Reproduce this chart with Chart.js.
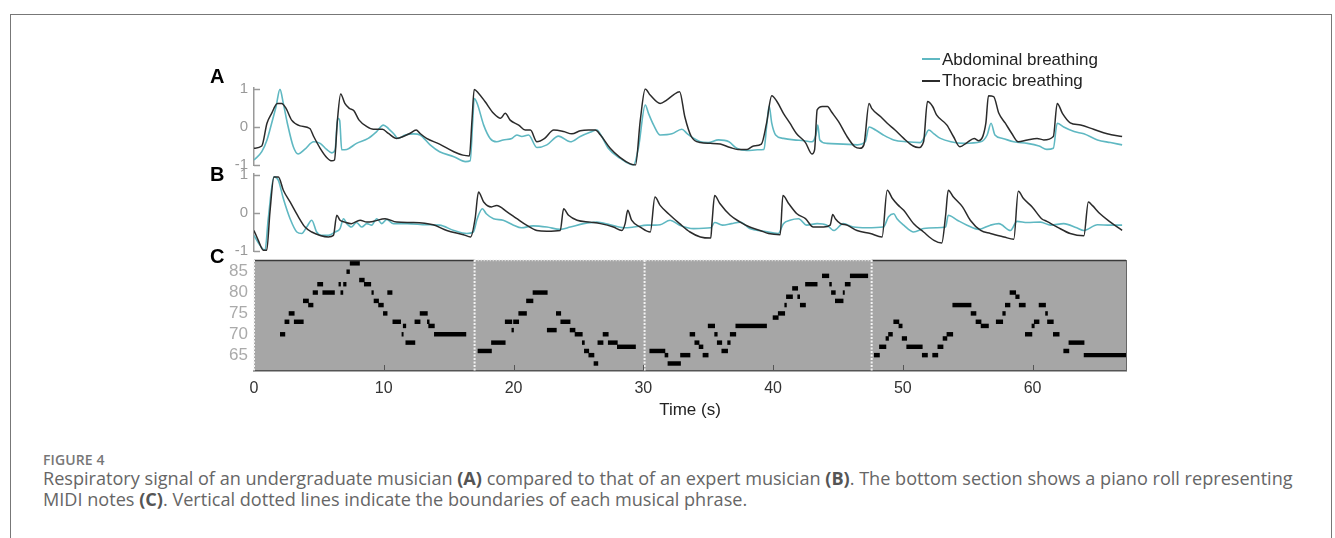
<!DOCTYPE html>
<html>
<head>
<meta charset="utf-8">
<script src="https://cdn.jsdelivr.net/npm/chart.js@4.4.1/dist/chart.umd.min.js"></script>
<style>
html,body{margin:0;padding:0;background:#fff;width:1335px;height:538px;overflow:hidden;}
#card{position:absolute;left:10px;top:14px;width:1322px;height:600px;border:1.5px solid #777;box-sizing:border-box;}
canvas{position:absolute;left:200px;}
.plabel{position:absolute;left:210px;font:bold 20px/20px "Liberation Sans",Arial,sans-serif;color:#000;}
.leg{position:absolute;left:942px;font:17px/20px "Liberation Sans",Arial,sans-serif;color:#222;white-space:nowrap;}
.legline{position:absolute;left:922px;width:18px;height:1.6px;}
#figlab{position:absolute;left:43px;top:451.6px;font:600 14px/16px "Open Sans",sans-serif;color:#777;letter-spacing:0.1px;}
#cap{position:absolute;left:43px;top:467.5px;font:18.1px/21px "Open Sans",sans-serif;color:#666;white-space:nowrap;}
#cap b{color:#555;font-weight:700;}
</style>
</head>
<body>
<div id="card"></div>
<canvas id="cA" width="940" height="118" style="top:68px;width:940px;height:118px"></canvas>
<canvas id="cB" width="940" height="118" style="top:154px;width:940px;height:118px"></canvas>
<canvas id="cC" width="940" height="192" style="top:240px;width:940px;height:192px"></canvas>
<div class="plabel" style="top:66px">A</div>
<div class="plabel" style="top:164px">B</div>
<div class="plabel" style="top:246px">C</div>
<div class="legline" style="top:58px;background:#5fb8c2"></div>
<div class="leg" style="top:50px">Abdominal breathing</div>
<div class="legline" style="top:80px;background:#2b2b2b"></div>
<div class="leg" style="top:71px">Thoracic breathing</div>
<div id="figlab">FIGURE 4</div>
<div id="cap">Respiratory signal of an undergraduate musician <b>(A)</b> compared to that of an expert musician <b>(B)</b>. The bottom section shows a piano roll representing<br>MIDI notes <b>(C)</b>. Vertical dotted lines indicate the boundaries of each musical phrase.</div>
<script>
// ---------- DATA ----------
const seriesNames = ["Abdominal breathing", "Thoracic breathing"];
const timeTicks = [0, 10, 20, 30, 40, 50, 60];
const signalTicks = [-1, 0, 1];
const pitchTicks = [65, 70, 75, 80, 85];
const phraseBounds = [17.0, 30.1, 47.6];

// Panel A (undergraduate) [time s, normalized signal]
const aAbdominal = [[0,-0.87],[0.6,-0.65],[1.0,-0.34],[1.36,0.1],[1.7,0.54],[2.0,0.99],[2.26,0.62],[2.57,0.1],[3.03,-0.52],[3.4,-0.71],[3.9,-0.59],[4.6,-0.39],[5.1,-0.43],[5.6,-0.59],[6.0,-0.68],[6.25,-0.6],[6.45,0.23],[6.6,0.18],[6.76,-0.6],[7.15,-0.59],[7.9,-0.43],[8.8,-0.3],[9.45,-0.12],[9.97,0.05],[10.36,-0.04],[10.75,-0.17],[11.1,-0.3],[11.65,-0.21],[12.3,-0.18],[12.8,-0.21],[13.57,-0.47],[14.3,-0.65],[15.4,-0.78],[16.3,-0.91],[16.66,-0.89],[16.86,0.18],[16.97,0.75],[17.2,0.62],[17.7,0.05],[18.2,-0.3],[18.7,-0.39],[19.2,-0.34],[19.87,-0.3],[20.26,-0.21],[20.64,-0.25],[21.16,-0.21],[21.8,-0.54],[22.57,-0.47],[23.47,-0.24],[24.37,-0.39],[25.14,-0.25],[25.9,-0.14],[26.43,-0.08],[26.8,-0.25],[27.3,-0.56],[28.2,-0.82],[29.25,-1.0],[29.64,-0.52],[30.15,0.58],[30.4,0.36],[30.8,0.05],[31.3,-0.21],[32.2,-0.18],[32.97,-0.06],[33.4,-0.18],[33.9,-0.3],[34.4,-0.39],[35.0,-0.41],[35.8,-0.34],[36.6,-0.39],[37.2,-0.56],[38.0,-0.62],[38.8,-0.6],[39.3,-0.59],[39.5,0.0],[39.7,0.55],[39.9,0.1],[40.2,-0.21],[40.8,-0.3],[41.6,-0.34],[42.4,-0.36],[43.0,-0.39],[43.3,-0.21],[43.45,0.05],[43.6,-0.34],[44.15,-0.43],[45.4,-0.45],[46.5,-0.47],[47.1,-0.39],[47.4,0.0],[47.9,-0.08],[48.5,-0.21],[49.3,-0.34],[50.3,-0.39],[51.35,-0.41],[51.7,-0.25],[52.0,-0.08],[52.4,-0.18],[52.9,-0.3],[53.7,-0.39],[54.7,-0.43],[56.0,-0.39],[56.5,-0.21],[56.8,0.1],[57.1,-0.21],[57.7,-0.3],[58.55,-0.39],[59.6,-0.43],[60.5,-0.5],[61.1,-0.59],[61.6,-0.56],[61.9,0.1],[62.4,0.0],[63.2,-0.12],[63.95,-0.18],[65.0,-0.34],[66.0,-0.41],[66.9,-0.47]];
const aThoracic = [[0,-0.56],[0.6,-0.5],[1.0,0.1],[1.36,0.36],[1.8,0.62],[2.13,0.62],[2.47,0.49],[2.9,0.18],[3.55,0.03],[4.3,-0.04],[4.6,-0.25],[5.1,-0.56],[5.6,-0.8],[6.0,-0.89],[6.2,-0.87],[6.43,0.18],[6.68,0.87],[7.0,0.62],[7.35,0.49],[7.7,0.43],[8.1,0.18],[8.7,0.01],[9.2,-0.06],[9.9,-0.06],[10.36,-0.17],[11.0,-0.3],[11.5,-0.25],[12.0,-0.17],[12.5,-0.08],[12.8,-0.17],[13.3,-0.3],[14.3,-0.45],[15.4,-0.65],[16.1,-0.74],[16.6,-0.76],[16.8,0.18],[16.97,0.99],[17.3,0.89],[17.8,0.67],[18.46,0.36],[19.0,0.23],[19.36,0.36],[19.74,0.18],[20.4,0.05],[20.9,-0.08],[21.3,-0.08],[21.8,-0.39],[22.4,-0.3],[23.1,-0.08],[23.86,-0.12],[24.5,-0.18],[25.14,-0.1],[25.8,-0.08],[26.3,-0.08],[26.7,-0.21],[27.45,-0.56],[28.2,-0.8],[29.0,-0.97],[29.4,-1.0],[29.77,0.18],[30.15,1.0],[30.53,0.84],[31.3,0.62],[31.8,0.71],[32.3,0.84],[32.8,0.93],[33.2,0.27],[33.7,-0.25],[34.4,-0.41],[35.16,-0.43],[35.93,-0.45],[36.7,-0.54],[37.3,-0.59],[38.0,-0.59],[38.5,-0.5],[39.1,-0.45],[39.5,0.1],[39.9,0.82],[40.3,0.67],[40.8,0.36],[41.3,0.1],[41.8,-0.17],[42.5,-0.41],[43.0,-0.71],[43.2,-0.6],[43.4,0.45],[43.8,0.54],[44.2,0.54],[44.5,0.4],[45.05,0.14],[45.7,-0.25],[46.3,-0.52],[46.7,-0.56],[47.0,-0.47],[47.4,0.62],[47.6,0.49],[48.3,0.27],[48.8,0.1],[49.4,-0.08],[50.07,-0.3],[50.8,-0.5],[51.2,-0.54],[51.6,-0.39],[51.9,0.67],[52.3,0.54],[52.6,0.32],[53.4,0.05],[53.9,-0.25],[54.4,-0.52],[54.95,-0.41],[55.5,-0.3],[55.85,-0.36],[56.4,0.1],[56.6,0.82],[57.0,0.8],[57.4,0.36],[57.9,0.1],[58.4,-0.17],[58.9,-0.39],[59.6,-0.34],[60.35,-0.3],[60.86,-0.34],[61.6,-0.25],[61.9,0.62],[62.3,0.36],[62.9,0.11],[63.7,0.05],[64.7,-0.06],[65.75,-0.18],[66.9,-0.25]];

// Panel B (expert)
const bAbdominal = [[0,-0.59],[0.46,-0.85],[0.85,-0.98],[1.1,-0.15],[1.54,0.95],[1.88,0.86],[2.26,0.38],[2.78,-0.15],[3.3,-0.5],[3.68,-0.54],[4.06,-0.37],[4.45,-0.19],[4.83,-0.5],[5.2,-0.59],[5.73,-0.59],[6.25,-0.5],[6.63,-0.41],[6.9,-0.15],[7.15,-0.28],[7.5,-0.37],[7.9,-0.25],[8.3,-0.37],[8.7,-0.28],[9.07,-0.32],[9.46,-0.15],[9.85,-0.28],[10.23,-0.17],[10.75,-0.28],[11.8,-0.28],[13.3,-0.31],[14.3,-0.32],[15.4,-0.46],[16.4,-0.54],[16.9,-0.5],[17.2,-0.15],[17.6,0.11],[17.9,-0.02],[18.46,-0.15],[19.2,-0.19],[20.0,-0.32],[20.6,-0.39],[21.5,-0.34],[22.57,-0.37],[23.6,-0.43],[24.37,-0.37],[25.4,-0.28],[26.4,-0.24],[27.45,-0.31],[28.5,-0.39],[29.25,-0.37],[30.3,-0.32],[30.9,-0.32],[31.3,-0.31],[32.07,-0.19],[32.8,-0.32],[33.87,-0.41],[35.2,-0.39],[35.5,-0.25],[36.1,-0.32],[36.8,-0.28],[37.47,-0.24],[38.2,-0.41],[39.3,-0.48],[40.4,-0.54],[40.8,-0.28],[41.3,-0.19],[41.97,-0.15],[42.6,-0.32],[43.4,-0.28],[44.15,-0.32],[44.7,-0.46],[45.4,-0.28],[46.2,-0.37],[47.2,-0.39],[48.5,-0.37],[48.9,-0.1],[49.3,-0.02],[49.55,-0.15],[50.07,-0.32],[50.84,-0.5],[51.6,-0.41],[52.6,-0.39],[53.3,-0.37],[53.5,-0.06],[54.2,-0.19],[54.95,-0.32],[55.85,-0.43],[56.75,-0.32],[57.4,-0.28],[58.3,-0.46],[58.8,-0.22],[59.6,-0.25],[60.6,-0.24],[61.4,-0.32],[62.4,-0.28],[63.4,-0.39],[63.95,-0.46],[65.0,-0.31],[66.0,-0.32],[66.9,-0.32]];
const bThoracic = [[0,-0.46],[0.33,-0.72],[0.72,-0.98],[0.98,-0.98],[1.23,0.03],[1.54,0.95],[1.88,0.95],[2.26,0.6],[2.78,0.29],[3.42,-0.1],[3.93,-0.37],[4.45,-0.5],[5.1,-0.59],[5.73,-0.63],[6.12,-0.59],[6.38,-0.06],[6.63,-0.19],[7.0,-0.24],[7.5,-0.28],[8.17,-0.19],[8.7,-0.24],[9.2,-0.22],[10.1,-0.15],[11.0,-0.24],[12.3,-0.25],[13.8,-0.31],[14.86,-0.46],[16.14,-0.57],[16.7,-0.63],[17.04,-0.15],[17.3,0.55],[17.7,0.29],[18.3,0.16],[18.7,0.2],[19.5,0.03],[20.26,-0.15],[21.0,-0.32],[21.8,-0.46],[22.57,-0.48],[23.6,-0.46],[23.86,0.11],[24.24,-0.06],[24.9,-0.19],[25.9,-0.24],[26.7,-0.28],[27.7,-0.37],[28.35,-0.46],[28.6,-0.28],[28.8,0.07],[29.1,-0.19],[29.77,-0.37],[30.54,-0.5],[30.9,0.42],[31.3,0.2],[32.07,-0.06],[32.8,-0.28],[33.6,-0.5],[34.4,-0.63],[35.2,-0.66],[35.3,-0.24],[35.5,0.46],[35.9,0.25],[36.7,-0.06],[37.47,-0.24],[38.2,-0.37],[39.0,-0.46],[39.65,-0.54],[40.55,-0.57],[40.76,0.46],[41.2,0.25],[41.84,-0.02],[42.5,-0.15],[43.1,-0.37],[43.9,-0.37],[44.4,-0.32],[44.6,-0.04],[44.8,-0.15],[45.2,-0.28],[45.7,-0.32],[46.47,-0.46],[47.5,-0.54],[48.4,-0.63],[48.8,0.6],[49.2,0.38],[49.6,0.22],[50.07,0.07],[50.84,-0.28],[51.6,-0.5],[52.4,-0.72],[53.0,-0.79],[53.3,-0.06],[53.5,0.6],[53.9,0.42],[54.6,0.16],[55.2,-0.19],[56.0,-0.46],[56.75,-0.54],[57.8,-0.63],[58.55,-0.69],[58.9,0.57],[59.3,0.38],[59.97,0.16],[60.7,-0.15],[61.1,-0.22],[61.9,-0.37],[62.9,-0.54],[63.95,-0.6],[64.3,0.29],[64.6,0.2],[65.2,-0.02],[66.0,-0.24],[66.9,-0.46]];

// Panel C piano roll: [start s, end s, MIDI pitch]
const notes = [
[2.03,2.38,70],[2.38,2.7,73],[2.7,3.1,75],[3.1,3.8,73],[3.8,4.2,78],[4.2,4.55,77],[4.55,4.9,80],[4.9,5.3,82],[5.3,6.2,80],[6.54,6.67,82],[6.69,6.85,80],[6.9,7.1,82],[7.15,7.36,85],[7.41,8.13,87],[8.13,8.5,83],[8.5,9.0,82],[9.08,9.2,80],[9.25,9.6,78],[9.6,9.97,77],[9.97,10.26,75],[10.3,10.64,80],[10.7,11.3,73],[11.4,11.5,70],[11.5,11.7,72],[11.7,12.4,68],[12.4,12.8,73],[12.8,13.36,75],[13.36,13.5,73],[13.46,13.9,72],[13.9,16.33,70],
[17.26,18.3,66],[18.3,19.36,68],[19.36,19.87,73],[19.87,20.0,71],[20.0,20.4,73],[20.4,21.0,75],[21.0,21.5,78],[21.5,22.6,80],[22.6,23.3,71],[23.3,23.64,75],[23.64,24.36,73],[24.36,24.74,71],[24.74,25.3,70],[25.3,25.46,68],[25.46,25.8,66],[25.8,26.2,65],[26.2,26.5,63],[26.5,26.9,68],[26.9,27.3,70],[27.3,28.0,68],[28.0,29.4,67],
[30.5,31.67,66],[31.67,31.9,65],[31.9,32.87,63],[32.87,33.6,65],[33.6,33.97,70],[33.97,34.3,68],[34.3,34.6,67],[34.6,35.0,65],[35.0,35.5,72],[35.5,35.7,70],[35.7,36.05,68],[36.05,36.5,66],[36.5,36.7,68],[36.7,37.13,70],[37.13,39.5,72],[40.0,40.4,74],[40.4,40.9,75],[40.9,41.03,77],[41.03,41.5,79],[41.5,41.9,81],[41.9,42.05,79],[42.1,42.5,77],[42.5,43.4,82],[43.8,44.3,84],[44.36,44.5,82],[44.5,44.8,80],[44.8,45.4,78],[45.4,45.5,80],[45.56,45.95,82],[45.95,47.3,84],
[47.8,48.2,65],[48.2,48.7,67],[48.7,48.9,69],[48.9,49.2,70],[49.3,49.7,73],[49.7,49.95,72],[49.95,50.3,69],[50.3,51.5,67],[51.5,51.9,65],[52.3,52.7,65],[52.7,53.1,67],[53.1,53.4,69],[53.4,53.85,70],[53.85,55.26,77],[55.26,55.64,75],[55.64,56.03,73],[56.03,56.6,72],[57.2,57.7,73],[57.7,57.9,75],[57.9,58.26,77],[58.26,58.7,80],[58.7,58.97,79],[58.97,59.44,77],[59.44,59.95,70],[59.95,60.13,72],[60.13,60.5,73],[60.5,61.0,77],[61.0,61.15,75],[61.15,61.6,73],[61.6,62.05,70],[62.4,62.8,66],[62.8,63.97,68],[63.97,67.2,65]
];

// ---------- STYLE / SCALES ----------
const T_MIN = 0, T_MAX = 67.2;
const TEAL = '#5fb8c2', DARK = '#2b2b2b';
Chart.defaults.font.family = "'Liberation Sans', Arial, sans-serif";
Chart.defaults.font.size = 15;

const deco = {
  id: 'deco',
  beforeDraw(chart, args, o) {
    const {ctx, chartArea: a} = chart;
    if (o.bg) { ctx.save(); ctx.fillStyle = o.bg; ctx.fillRect(a.left, a.top, a.right - a.left, a.bottom - a.top); ctx.restore(); }
  },
  afterDraw(chart, args, o) {
    const {ctx, chartArea: a, scales} = chart;
    const x = scales.x, y = scales.y;
    ctx.save();
    if (o.yInward) {
      ctx.strokeStyle = o.yInward; ctx.lineWidth = 1.5;
      y.ticks.forEach(t => {
        const py = Math.round(y.getPixelForValue(t.value)) + 0.5;
        ctx.beginPath(); ctx.moveTo(a.left, py); ctx.lineTo(a.left + 6, py); ctx.stroke();
      });
    }
    if (o.phrases) {
      const py0 = a.top + 0.5;
      const p0 = x.getPixelForValue(o.phrases[0]), pN = x.getPixelForValue(o.phrases[o.phrases.length - 1]);
      ctx.strokeStyle = '#3a3a3a'; ctx.lineWidth = 1.5; ctx.setLineDash([]);
      ctx.beginPath(); ctx.moveTo(a.left, py0); ctx.lineTo(p0, py0); ctx.moveTo(pN, py0); ctx.lineTo(a.right, py0); ctx.stroke();
      ctx.strokeStyle = '#d8d8d8'; ctx.setLineDash([1.5, 1.5]);
      ctx.beginPath(); ctx.moveTo(p0, py0); ctx.lineTo(pN, py0); ctx.stroke();
      ctx.setLineDash([]); ctx.strokeStyle = '#666'; ctx.lineWidth = 1;
      ctx.beginPath(); ctx.moveTo(a.right + 0.5, a.top); ctx.lineTo(a.right + 0.5, a.bottom); ctx.stroke();
      ctx.strokeStyle = '#f4f4f4'; ctx.lineWidth = 2; ctx.setLineDash([2, 1.5]);
      [x.min].concat(o.phrases).forEach(v => {
        const px = x.getPixelForValue(v);
        ctx.beginPath(); ctx.moveTo(px, a.top); ctx.lineTo(px, a.bottom); ctx.stroke();
      });
      ctx.setLineDash([]); ctx.strokeStyle = '#555'; ctx.lineWidth = 1;
      x.ticks.forEach(t => {
        if (t.value === x.min) return;
        const px = Math.round(x.getPixelForValue(t.value)) + 0.5;
        ctx.beginPath(); ctx.moveTo(px, a.bottom); ctx.lineTo(px, a.bottom - 6); ctx.stroke();
      });
    }
    ctx.restore();
  }
};

function toXY(arr) { return arr.map(p => ({x: p[0], y: p[1]})); }

function signalChart(id, abd, tho) {
  return new Chart(document.getElementById(id), {
    type: 'line',
    data: {
      datasets: [
        {label: seriesNames[1], data: toXY(tho), borderColor: DARK, borderWidth: 1.5, pointRadius: 0, cubicInterpolationMode: 'monotone', order: 0},
        {label: seriesNames[0], data: toXY(abd), borderColor: TEAL, borderWidth: 1.6, pointRadius: 0, cubicInterpolationMode: 'monotone', order: 1}
      ]
    },
    options: {
      responsive: false, animation: false, events: [],
      layout: {padding: {left: 0, right: 14, top: 20.24, bottom: 20.24}},
      plugins: {legend: {display: false}, tooltip: {enabled: false}, deco: {yInward: '#999'}},
      scales: {
        x: {type: 'linear', min: T_MIN, max: T_MAX, display: false, offset: false},
        y: {
          type: 'linear', min: -1.02, max: 1.02, offset: false,
          afterBuildTicks: s => { s.ticks = signalTicks.map(v => ({value: v})); },
          afterFit: s => { s.width = 54; },
          grid: {display: false, drawTicks: false},
          border: {display: true, color: '#999', width: 1.5},
          ticks: {color: '#999', padding: 6, font: {size: 15}, autoSkip: false}
        }
      }
    },
    plugins: [deco]
  });
}

signalChart('cA', aAbdominal, aThoracic);
signalChart('cB', bAbdominal, bThoracic);

new Chart(document.getElementById('cC'), {
  type: 'bar',
  data: {
    datasets: [{
      label: 'MIDI notes',
      data: notes.map(n => ({x: [n[0], n[1]], y: n[2]})),
      backgroundColor: '#000', borderWidth: 0, barThickness: 3.8, borderSkipped: false
    }]
  },
  options: {
    indexAxis: 'y', responsive: false, animation: false, events: [],
    layout: {padding: {left: 0, right: 14, top: 20, bottom: 11.8}},
    plugins: {legend: {display: false}, tooltip: {enabled: false}, deco: {bg: '#a6a6a6', phrases: phraseBounds}},
    scales: {
      x: {
        type: 'linear', min: T_MIN, max: T_MAX, offset: false,
        afterBuildTicks: s => { s.ticks = timeTicks.map(v => ({value: v})); },
        afterFit: s => { s.height = 49.2; },
        grid: {display: false, drawTicks: false, offset: false},
        border: {display: true, color: '#555', width: 1.5},
        ticks: {color: '#333', padding: 7.5, font: {size: 16}, maxRotation: 0, autoSkip: false},
        title: {display: true, text: 'Time (s)', color: '#222', font: {size: 17}, padding: {top: 0, bottom: 0}}
      },
      y: {
        type: 'linear', min: 61.2, max: 87.8, offset: false,
        afterBuildTicks: s => { s.ticks = pitchTicks.map(v => ({value: v})); },
        afterFit: s => { s.width = 54; },
        grid: {display: false, drawTicks: false, offset: false},
        border: {display: false},
        ticks: {color: '#aaa', padding: 6, font: {size: 17}, autoSkip: false}
      }
    }
  },
  plugins: [deco]
});
</script>
</body>
</html>
